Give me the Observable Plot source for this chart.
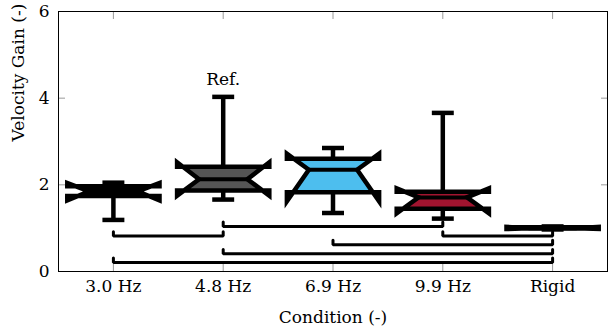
<!DOCTYPE html>
<html><head><meta charset="utf-8">
<script src="https://cdn.jsdelivr.net/npm/d3@7"></script>
<script src="https://cdn.jsdelivr.net/npm/@observablehq/plot@0.6"></script>
<style>body{margin:0;background:#fff;}</style>
</head><body><div id="chart"></div>
<script>
// ---- data ----
const conditions  = ["3.0 Hz", "4.8 Hz", "6.9 Hz", "9.9 Hz", "Rigid"];
const whiskerLow  = [1.19, 1.66, 1.35, 1.22, 0.97];
const q1          = [1.74, 1.87, 1.83, 1.45, 0.99];
const median      = [1.85, 2.13, 2.35, 1.71, 1.00];
const q3          = [1.97, 2.42, 2.60, 1.84, 1.02];
const notchLow    = [1.64, 1.75, 1.62, 1.34, 0.98];
const notchHigh   = [2.04, 2.52, 2.72, 1.92, 1.03];
const whiskerHigh = [2.05, 4.03, 2.85, 3.66, 1.04];
const boxFill     = ["#000000", "#555555", "#4DBEEE", "#A2142F", "#000000"];
const yTicks      = [0, 2, 4, 6];
// significance brackets (from condition index, to condition index, level)
const sigFrom  = [1, 0, 3, 2, 1, 0];
const sigTo    = [3, 1, 4, 4, 4, 4];
const sigLevel = [1.04, 0.82, 0.82, 0.62, 0.41, 0.21];
const refIndex = 1;
const refText  = "Ref.";

// ---- geometry helpers (in data units of the x scale) ----
const idx = conditions.map((_, i) => i);
const W = 0.42, WI = 0.22, CAP = 0.1, STUB = 0.1;

const boxMarks = idx.map(i => {
  const pts = [
    [i - W, q1[i]], [i - W, notchLow[i]], [i - WI, median[i]], [i - W, notchHigh[i]], [i - W, q3[i]],
    [i + W, q3[i]], [i + W, notchHigh[i]], [i + WI, median[i]], [i + W, notchLow[i]], [i + W, q1[i]]
  ].map(([x, y]) => ({x, y}));
  return Plot.line(pts, {x: "x", y: "y", curve: "linear-closed", fill: boxFill[i], stroke: "black",
    strokeWidth: 4.5, strokeLinejoin: "miter", strokeMiterlimit: 6});
});

const sigPts = [];
sigFrom.forEach((f, k) => {
  const t = sigTo[k], l = sigLevel[k];
  sigPts.push({k, x: f, y: l + STUB}, {k, x: f, y: l}, {k, x: t, y: l}, {k, x: t, y: l + STUB});
});

const font = "DejaVu Serif";
const tickColor = "#9a9a9a";

const chart = Plot.plot({
  width: 610, height: 333,
  marginLeft: 58, marginRight: 3, marginTop: 11, marginBottom: 62,
  style: {fontFamily: font, fontSize: "17px", background: "white", color: "black"},
  x: {domain: [-0.5, 4.5]},
  y: {domain: [0, 6]},
  marks: [
    // inward ticks on all four sides
    Plot.axisX({ticks: idx, tickSize: -7, stroke: tickColor, fill: "none", label: null}),
    Plot.axisX({anchor: "top", ticks: idx, tickSize: -7, stroke: tickColor, fill: "none", label: null}),
    Plot.axisY({ticks: yTicks, tickSize: -7, stroke: tickColor, fill: "none", label: null}),
    Plot.axisY({anchor: "right", ticks: yTicks, tickSize: -7, stroke: tickColor, fill: "none", label: null}),
    // tick labels
    Plot.axisX({ticks: idx, tickSize: 0, tickPadding: 8, tickFormat: i => conditions[i], label: null, fontSize: 17}),
    Plot.axisY({ticks: yTicks, tickSize: 0, tickPadding: 9, tickFormat: d => String(d), label: null, fontSize: 17}),
    Plot.frame({stroke: "black", strokeWidth: 1}),
    // significance brackets
    Plot.line(sigPts, {x: "x", y: "y", z: "k", stroke: "black", strokeWidth: 3, strokeLinejoin: "miter"}),
    // whiskers
    Plot.link(idx, {x1: i => i, x2: i => i, y1: i => q3[i], y2: i => whiskerHigh[i], stroke: "black", strokeWidth: 4.5}),
    Plot.link(idx, {x1: i => i, x2: i => i, y1: i => q1[i], y2: i => whiskerLow[i], stroke: "black", strokeWidth: 4.5}),
    Plot.link(idx, {x1: i => i - CAP, x2: i => i + CAP, y1: i => whiskerHigh[i], y2: i => whiskerHigh[i], stroke: "black", strokeWidth: 4.5}),
    Plot.link(idx, {x1: i => i - CAP, x2: i => i + CAP, y1: i => whiskerLow[i], y2: i => whiskerLow[i], stroke: "black", strokeWidth: 4.5}),
    // boxes
    ...boxMarks,
    // medians
    Plot.link(idx, {x1: i => i - WI, x2: i => i + WI, y1: i => median[i], y2: i => median[i], stroke: "black", strokeWidth: 4}),
    // reference label
    Plot.text([refIndex], {x: i => i, y: i => whiskerHigh[i], text: () => refText, dy: -17, fontSize: 17, fill: "black"}),
    // axis titles
    Plot.text(["Velocity Gain (-)"], {frameAnchor: "left", text: d => d, rotate: -90, dx: -40, fontSize: 17, fill: "black"}),
    Plot.text(["Condition (-)"], {frameAnchor: "bottom", text: d => d, dy: 51, fontSize: 17, fill: "black"})
  ]
});
document.getElementById("chart").append(chart);
</script>
</body></html>
